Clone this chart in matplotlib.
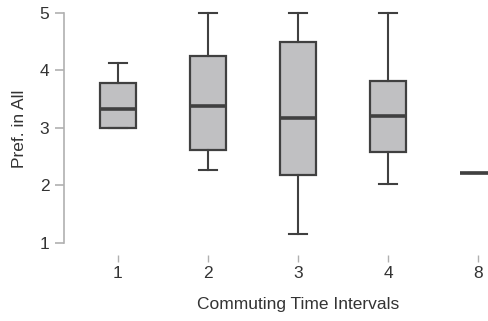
import matplotlib
matplotlib.use('Agg')
import matplotlib.pyplot as plt

plt.rcParams['font.family'] = ['Liberation Sans', 'DejaVu Sans']

# box statistics
groups  = ['1', '2', '3', '4', '8']
whislo  = [3.00, 2.26, 1.15, 2.02, 2.21]
q1      = [3.00, 2.62, 2.17, 2.58, 2.21]
medians = [3.33, 3.37, 3.16, 3.20, 2.21]
q3      = [3.78, 4.25, 4.49, 3.82, 2.21]
whishi  = [4.12, 5.00, 5.00, 5.00, 2.21]

stats = []
for i in range(len(groups)):
    stats.append(dict(label=groups[i], whislo=whislo[i], q1=q1[i],
                      med=medians[i], q3=q3[i], whishi=whishi[i], fliers=[]))

W, H = 489, 321
fig = plt.figure(figsize=(W/100, H/100), dpi=100)
# axes placed in pixel terms
x0, x1 = 64, 489
y0, y1 = 69.7, 314.05
ax = fig.add_axes([x0/W, y0/H, (x1-x0)/W, (y1-y0)/H])

edge = '#404040'
ax.bxp(stats, positions=range(1, len(groups)+1), widths=0.41,
       patch_artist=True, showfliers=False,
       boxprops=dict(facecolor='#c0c0c2', edgecolor=edge, linewidth=1.6),
       medianprops=dict(color=edge, linewidth=2.6, solid_capstyle='butt'),
       whiskerprops=dict(color=edge, linewidth=1.5),
       capprops=dict(color=edge, linewidth=1.5))

ax.set_xlim(0.4, 1 + (x1-118)/90)
ax.set_ylim(0.85, 5.1)
ax.set_yticks([1, 2, 3, 4, 5])

for s in ['top', 'right']:
    ax.spines[s].set_visible(False)
ax.spines['bottom'].set_position(('outward', 3))
ax.spines['bottom'].set_visible(False)
ax.spines['left'].set_bounds(1, 5)
ax.spines['left'].set_color('#b0b0b0')
ax.spines['left'].set_linewidth(1.2)

fs = 12.5
ax.tick_params(axis='y', length=6.5, width=1.2, color='#b0b0b0', pad=4,
               labelsize=fs, labelcolor='#333333')
ax.tick_params(axis='x', length=5, width=1, color='#b0b0b0', pad=2.5,
               labelsize=fs, labelcolor='#333333')

ax.set_xlabel('Commuting Time Intervals', fontsize=fs, color='#333333')
# label sits under the middle category, not the axes centre
ax.xaxis.set_label_coords((298 - x0) / (x1 - x0), -0.185)
ax.set_ylabel('Pref. in All', fontsize=fs, color='#333333', labelpad=9)

fig.savefig('out.png', dpi=100)
